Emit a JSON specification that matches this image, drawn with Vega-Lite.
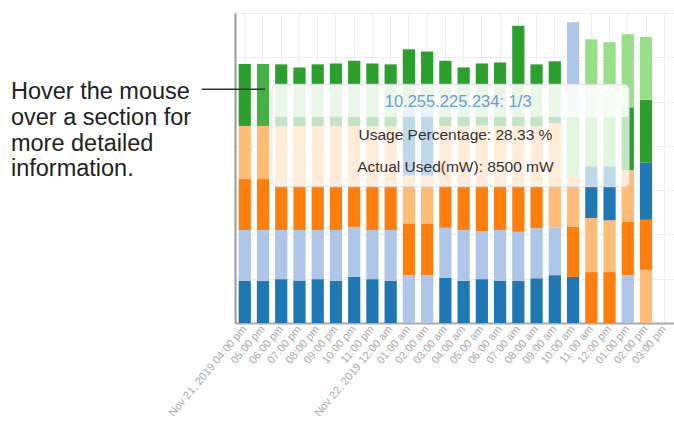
{
  "$schema": "https://vega.github.io/schema/vega-lite/v6.json",
  "width": 439,
  "height": 310,
  "autosize": {"type": "none"},
  "padding": {"left": 235, "top": 13, "right": 0, "bottom": 103},
  "background": "white",
  "config": {"view": {"stroke": null}, "font": "Liberation Sans"},
  "datasets": {
    "usage": [
      {"t": "Nov 21, 2019 04:00 pm", "s": "s1", "k": 1, "v": 4750},
      {"t": "Nov 21, 2019 04:00 pm", "s": "s2", "k": 2, "v": 5750},
      {"t": "Nov 21, 2019 04:00 pm", "s": "s3", "k": 3, "v": 5750},
      {"t": "Nov 21, 2019 04:00 pm", "s": "s4", "k": 4, "v": 6000},
      {"t": "Nov 21, 2019 04:00 pm", "s": "s5", "k": 5, "v": 7000},
      {"t": "05:00 pm", "s": "s1", "k": 1, "v": 4750},
      {"t": "05:00 pm", "s": "s2", "k": 2, "v": 5750},
      {"t": "05:00 pm", "s": "s3", "k": 3, "v": 5750},
      {"t": "05:00 pm", "s": "s4", "k": 4, "v": 6000},
      {"t": "05:00 pm", "s": "s5", "k": 5, "v": 7000, "h": true},
      {"t": "06:00 pm", "s": "s1", "k": 1, "v": 4950},
      {"t": "06:00 pm", "s": "s2", "k": 2, "v": 5550},
      {"t": "06:00 pm", "s": "s3", "k": 3, "v": 4950},
      {"t": "06:00 pm", "s": "s4", "k": 4, "v": 6750},
      {"t": "06:00 pm", "s": "s5", "k": 5, "v": 7000},
      {"t": "07:00 pm", "s": "s1", "k": 1, "v": 4750},
      {"t": "07:00 pm", "s": "s2", "k": 2, "v": 5750},
      {"t": "07:00 pm", "s": "s3", "k": 3, "v": 4950},
      {"t": "07:00 pm", "s": "s4", "k": 4, "v": 6750},
      {"t": "07:00 pm", "s": "s5", "k": 5, "v": 6650},
      {"t": "08:00 pm", "s": "s1", "k": 1, "v": 4950},
      {"t": "08:00 pm", "s": "s2", "k": 2, "v": 5550},
      {"t": "08:00 pm", "s": "s3", "k": 3, "v": 4950},
      {"t": "08:00 pm", "s": "s4", "k": 4, "v": 6750},
      {"t": "08:00 pm", "s": "s5", "k": 5, "v": 7000},
      {"t": "09:00 pm", "s": "s1", "k": 1, "v": 4750},
      {"t": "09:00 pm", "s": "s2", "k": 2, "v": 5750},
      {"t": "09:00 pm", "s": "s3", "k": 3, "v": 4950},
      {"t": "09:00 pm", "s": "s4", "k": 4, "v": 6750},
      {"t": "09:00 pm", "s": "s5", "k": 5, "v": 7100},
      {"t": "10:00 pm", "s": "s1", "k": 1, "v": 5200},
      {"t": "10:00 pm", "s": "s2", "k": 2, "v": 5650},
      {"t": "10:00 pm", "s": "s3", "k": 3, "v": 4650},
      {"t": "10:00 pm", "s": "s4", "k": 4, "v": 6750},
      {"t": "10:00 pm", "s": "s5", "k": 5, "v": 7350},
      {"t": "11:00 pm", "s": "s1", "k": 1, "v": 4950},
      {"t": "11:00 pm", "s": "s2", "k": 2, "v": 5550},
      {"t": "11:00 pm", "s": "s3", "k": 3, "v": 4950},
      {"t": "11:00 pm", "s": "s4", "k": 4, "v": 6750},
      {"t": "11:00 pm", "s": "s5", "k": 5, "v": 7100},
      {"t": "Nov 22, 2019 12:00 am", "s": "s1", "k": 1, "v": 4750},
      {"t": "Nov 22, 2019 12:00 am", "s": "s2", "k": 2, "v": 5750},
      {"t": "Nov 22, 2019 12:00 am", "s": "s3", "k": 3, "v": 4950},
      {"t": "Nov 22, 2019 12:00 am", "s": "s4", "k": 4, "v": 6750},
      {"t": "Nov 22, 2019 12:00 am", "s": "s5", "k": 5, "v": 7000},
      {"t": "01:00 am", "s": "s2", "k": 1, "v": 5400},
      {"t": "01:00 am", "s": "s3", "k": 2, "v": 5850},
      {"t": "01:00 am", "s": "s4", "k": 3, "v": 5400},
      {"t": "01:00 am", "s": "s1", "k": 4, "v": 7350},
      {"t": "01:00 am", "s": "s5", "k": 5, "v": 6900},
      {"t": "02:00 am", "s": "s2", "k": 1, "v": 5400},
      {"t": "02:00 am", "s": "s3", "k": 2, "v": 5850},
      {"t": "02:00 am", "s": "s4", "k": 3, "v": 5400},
      {"t": "02:00 am", "s": "s1", "k": 4, "v": 7350},
      {"t": "02:00 am", "s": "s5", "k": 5, "v": 6650},
      {"t": "03:00 am", "s": "s1", "k": 1, "v": 5100},
      {"t": "03:00 am", "s": "s2", "k": 2, "v": 5650},
      {"t": "03:00 am", "s": "s3", "k": 3, "v": 4750},
      {"t": "03:00 am", "s": "s4", "k": 4, "v": 6750},
      {"t": "03:00 am", "s": "s5", "k": 5, "v": 7350},
      {"t": "04:00 am", "s": "s1", "k": 1, "v": 4750},
      {"t": "04:00 am", "s": "s2", "k": 2, "v": 5750},
      {"t": "04:00 am", "s": "s3", "k": 3, "v": 4950},
      {"t": "04:00 am", "s": "s4", "k": 4, "v": 6750},
      {"t": "04:00 am", "s": "s5", "k": 5, "v": 6650},
      {"t": "05:00 am", "s": "s1", "k": 1, "v": 4950},
      {"t": "05:00 am", "s": "s2", "k": 2, "v": 5400},
      {"t": "05:00 am", "s": "s3", "k": 3, "v": 5200},
      {"t": "05:00 am", "s": "s4", "k": 4, "v": 6750},
      {"t": "05:00 am", "s": "s5", "k": 5, "v": 7000},
      {"t": "06:00 am", "s": "s1", "k": 1, "v": 4750},
      {"t": "06:00 am", "s": "s2", "k": 2, "v": 5750},
      {"t": "06:00 am", "s": "s3", "k": 3, "v": 4950},
      {"t": "06:00 am", "s": "s4", "k": 4, "v": 6750},
      {"t": "06:00 am", "s": "s5", "k": 5, "v": 7200},
      {"t": "07:00 am", "s": "s1", "k": 1, "v": 4750},
      {"t": "07:00 am", "s": "s2", "k": 2, "v": 5550},
      {"t": "07:00 am", "s": "s3", "k": 3, "v": 5200},
      {"t": "07:00 am", "s": "s4", "k": 4, "v": 6750},
      {"t": "07:00 am", "s": "s5", "k": 5, "v": 11300},
      {"t": "08:00 am", "s": "s1", "k": 1, "v": 5050},
      {"t": "08:00 am", "s": "s2", "k": 2, "v": 5650},
      {"t": "08:00 am", "s": "s3", "k": 3, "v": 4750},
      {"t": "08:00 am", "s": "s4", "k": 4, "v": 6750},
      {"t": "08:00 am", "s": "s5", "k": 5, "v": 7000},
      {"t": "09:00 am", "s": "s1", "k": 1, "v": 5400},
      {"t": "09:00 am", "s": "s2", "k": 2, "v": 5400},
      {"t": "09:00 am", "s": "s4", "k": 3, "v": 11750},
      {"t": "09:00 am", "s": "s5", "k": 4, "v": 7000},
      {"t": "10:00 am", "s": "s1", "k": 1, "v": 5200},
      {"t": "10:00 am", "s": "s3", "k": 2, "v": 5650},
      {"t": "10:00 am", "s": "s4", "k": 3, "v": 5850},
      {"t": "10:00 am", "s": "s6", "k": 4, "v": 7100},
      {"t": "10:00 am", "s": "s2", "k": 5, "v": 10150},
      {"t": "11:00 am", "s": "s3", "k": 1, "v": 5750},
      {"t": "11:00 am", "s": "s4", "k": 2, "v": 6100},
      {"t": "11:00 am", "s": "s1", "k": 3, "v": 5850},
      {"t": "11:00 am", "s": "s6", "k": 4, "v": 14350},
      {"t": "12:00 pm", "s": "s3", "k": 1, "v": 5750},
      {"t": "12:00 pm", "s": "s4", "k": 2, "v": 5850},
      {"t": "12:00 pm", "s": "s1", "k": 3, "v": 6100},
      {"t": "12:00 pm", "s": "s6", "k": 4, "v": 14000},
      {"t": "01:00 pm", "s": "s2", "k": 1, "v": 5400},
      {"t": "01:00 pm", "s": "s3", "k": 2, "v": 6000},
      {"t": "01:00 pm", "s": "s4", "k": 3, "v": 5850},
      {"t": "01:00 pm", "s": "s5", "k": 4, "v": 7100},
      {"t": "01:00 pm", "s": "s6", "k": 5, "v": 8250},
      {"t": "02:00 pm", "s": "s4", "k": 1, "v": 6000},
      {"t": "02:00 pm", "s": "s3", "k": 2, "v": 5650},
      {"t": "02:00 pm", "s": "s1", "k": 3, "v": 6450},
      {"t": "02:00 pm", "s": "s5", "k": 4, "v": 7100},
      {"t": "02:00 pm", "s": "s6", "k": 5, "v": 7100}
    ]
  },
  "layer": [
    {
      "data": {"name": "usage"},
      "mark": {"type": "bar"},
      "encoding": {
        "x": {
          "field": "t",
          "type": "nominal",
          "sort": null,
          "title": null,
          "scale": {
            "domain": ["Nov 21, 2019 04:00 pm", "05:00 pm", "06:00 pm", "07:00 pm", "08:00 pm", "09:00 pm", "10:00 pm", "11:00 pm", "Nov 22, 2019 12:00 am", "01:00 am", "02:00 am", "03:00 am", "04:00 am", "05:00 am", "06:00 am", "07:00 am", "08:00 am", "09:00 am", "10:00 am", "11:00 am", "12:00 pm", "01:00 pm", "02:00 pm", "03:00 pm"],
            "paddingInner": 0.33,
            "paddingOuter": 0.2
          },
          "axis": {
            "labelAngle": -50,
            "labelColor": "#aaaaaa",
            "labelFontSize": 11,
            "labelFont": "Liberation Sans",
            "labelPadding": 4,
            "labelOverlap": false,
            "ticks": false,
            "domainColor": "#aaaaaa",
            "domainWidth": 2,
            "grid": true,
            "gridColor": "#eeeeee",
            "bandPosition": 0.5
          }
        },
        "y": {
          "field": "v",
          "type": "quantitative",
          "stack": "zero",
          "title": null,
          "scale": {"domain": [0, 35000], "nice": false},
          "axis": {
            "labels": false,
            "ticks": false,
            "domainColor": "#999999",
            "domainWidth": 2,
            "grid": true,
            "gridColor": "#eeeeee",
            "values": [0, 5000, 10000, 15000, 20000, 25000, 30000, 35000]
          }
        },
        "color": {
          "condition": {"test": "datum.h", "value": "#45b045"},
          "field": "s",
          "type": "nominal",
          "scale": {
            "domain": ["s1", "s2", "s3", "s4", "s5", "s6"],
            "range": ["#1f77b4", "#aec7e8", "#ff7f0e", "#ffbb78", "#2ca02c", "#98df8a"]
          },
          "legend": null
        },
        "order": {"field": "k", "type": "quantitative"}
      }
    },
    {
      "data": {"values": [{}]},
      "mark": {"type": "rect", "fill": "white", "fillOpacity": 0.72, "cornerRadiusBottomLeft": 5, "cornerRadiusBottomRight": 5},
      "encoding": {
        "x": {"datum": 2.02, "type": "quantitative", "scale": {"domain": [0, 24], "nice": false, "zero": false}, "axis": null},
        "x2": {"datum": 21.54},
        "y": {"datum": 15390, "type": "quantitative"},
        "y2": {"datum": 23257}
      }
    },
    {
      "data": {"values": [{}]},
      "mark": {"type": "rect", "fill": "white", "fillOpacity": 0.9, "cornerRadiusTopLeft": 5, "cornerRadiusTopRight": 5},
      "encoding": {
        "x": {"datum": 2.02, "type": "quantitative", "scale": {"domain": [0, 24], "nice": false, "zero": false}, "axis": null},
        "x2": {"datum": 21.54},
        "y": {"datum": 23257, "type": "quantitative"},
        "y2": {"datum": 26950}
      }
    },
    {
      "data": {"values": [{}]},
      "mark": {"type": "rect", "fill": "transparent", "stroke": "#dddddd", "strokeWidth": 1, "cornerRadius": 5},
      "encoding": {
        "x": {"datum": 2.02, "type": "quantitative", "scale": {"domain": [0, 24], "nice": false, "zero": false}, "axis": null},
        "x2": {"datum": 21.54},
        "y": {"datum": 15390, "type": "quantitative"},
        "y2": {"datum": 26950}
      }
    },
    {
      "data": {"values": [{}]},
      "mark": {"type": "text", "align": "center", "baseline": "alphabetic", "fontSize": 16.5, "color": "#6a9bd1", "font": "Liberation Sans"},
      "encoding": {
        "x": {"datum": 12.2, "type": "quantitative", "scale": {"domain": [0, 24], "nice": false, "zero": false}, "axis": null},
        "y": {"datum": 24420, "type": "quantitative"},
        "text": {"value": "10.255.225.234: 1/3"}
      }
    },
    {
      "data": {"values": [{}]},
      "mark": {"type": "text", "align": "center", "baseline": "alphabetic", "fontSize": 15.5, "color": "#333333", "font": "Liberation Sans"},
      "encoding": {
        "x": {"datum": 12.05, "type": "quantitative", "scale": {"domain": [0, 24], "nice": false, "zero": false}, "axis": null},
        "y": {"datum": 20660, "type": "quantitative"},
        "text": {"value": "Usage Percentage: 28.33 %"}
      }
    },
    {
      "data": {"values": [{}]},
      "mark": {"type": "text", "align": "center", "baseline": "alphabetic", "fontSize": 15.5, "color": "#333333", "font": "Liberation Sans"},
      "encoding": {
        "x": {"datum": 12.05, "type": "quantitative", "scale": {"domain": [0, 24], "nice": false, "zero": false}, "axis": null},
        "y": {"datum": 17080, "type": "quantitative"},
        "text": {"value": "Actual Used(mW): 8500 mW"}
      }
    },
    {
      "data": {"values": [{}]},
      "mark": {"type": "text", "align": "left", "baseline": "alphabetic", "fontSize": 23.5, "lineHeight": 25.7, "color": "#222222", "font": "Liberation Sans"},
      "encoding": {
        "x": {"datum": -12.25, "type": "quantitative", "scale": {"domain": [0, 24], "nice": false, "zero": false}, "axis": null},
        "y": {"datum": 25256, "type": "quantitative"},
        "text": {"value": ["Hover the mouse", "over a section for", "more detailed", "information."]}
      }
    },
    {
      "data": {"values": [{}]},
      "mark": {"type": "rule", "color": "#333333", "strokeWidth": 1.5},
      "encoding": {
        "x": {"datum": -1.82, "type": "quantitative", "scale": {"domain": [0, 24], "nice": false, "zero": false}, "axis": null},
        "x2": {"datum": 1.64},
        "y": {"datum": 26385, "type": "quantitative"}
      }
    }
  ],
  "resolve": {"scale": {"x": "independent"}}
}
